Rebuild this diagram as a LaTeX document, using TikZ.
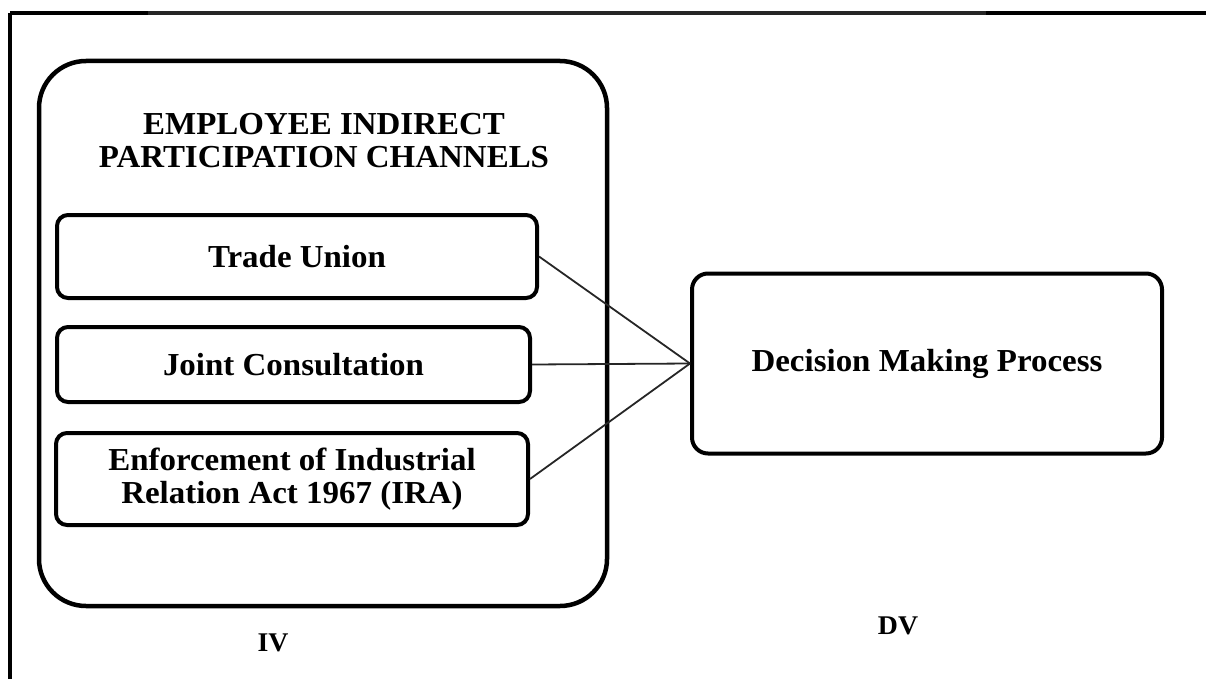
\documentclass[tikz,border=0pt]{standalone}
\usepackage{fontspec}
\setmainfont{Liberation Serif}[FakeStretch=1.03]
\begin{document}
\begin{tikzpicture}[x=1pt,y=-1pt,
  framelineblk/.style={line width=4pt,black},
  framelinegry/.style={line width=4pt,color=black!85},
  groupbox/.style={draw,line width=4.5pt,rounded corners=47pt,minimum width=568pt,minimum height=545pt,inner sep=0pt},
  chanbox/.style={draw,line width=4pt,rounded corners=11pt,inner sep=0pt,align=center,font=\fontsize{32}{33}\selectfont\bfseries},
  dvbox/.style={draw,line width=4pt,rounded corners=16pt,inner sep=0pt,align=center,font=\fontsize{32}{33}\selectfont\bfseries},
  titletext/.style={align=center,inner sep=0pt,font=\fontsize{32}{33}\selectfont\bfseries},
  vartext/.style={inner sep=0pt,font=\fontsize{27}{30}\selectfont\bfseries},
  link/.style={line width=1.8pt,color=black!85}]
\useasboundingbox (0,0) rectangle (1206,679);
% partial frame
\coordinate (ftl) at (10,13);
\coordinate (fa) at (148,13);
\coordinate (fb) at (986,13);
\coordinate (ftr) at (1206,13);
\coordinate (fbl) at (10,679);
\draw[framelinegry] (fa) -- (fb);
\draw[framelineblk] (ftl) -- (fa);
\draw[framelineblk] (fb) -- (ftr);
\draw[framelineblk] (ftl) -- (fbl);
% group box
\node[groupbox] (grp) at (323,333.5) {};
\node[titletext] (title) at (324,141) {EMPLOYEE INDIRECT\\PARTICIPATION CHANNELS};
% channels
\node[chanbox,minimum width=480pt,minimum height=83pt] (tu) at (297,256.5) {Trade Union};
\node[chanbox,minimum width=473pt,minimum height=75pt] (jc) at (293.5,364.5) {Joint Consultation};
\node[chanbox,minimum width=472pt,minimum height=92pt] (ira) at (292,479) {Enforcement of Industrial\\Relation Act 1967 (IRA)};
% dependent variable
\node[dvbox,minimum width=470pt,minimum height=180pt] (dm) at (927,363.5) {Decision Making Process};
% connectors
\draw[link] (tu.east) -- (dm.west);
\draw[link] (jc.east) -- (dm.west);
\draw[link] (ira.east) -- (dm.west);
% labels
\node[vartext] (iv) at (273,643) {IV};
\node[vartext] (dv) at (898,626) {DV};
\end{tikzpicture}
\end{document}
